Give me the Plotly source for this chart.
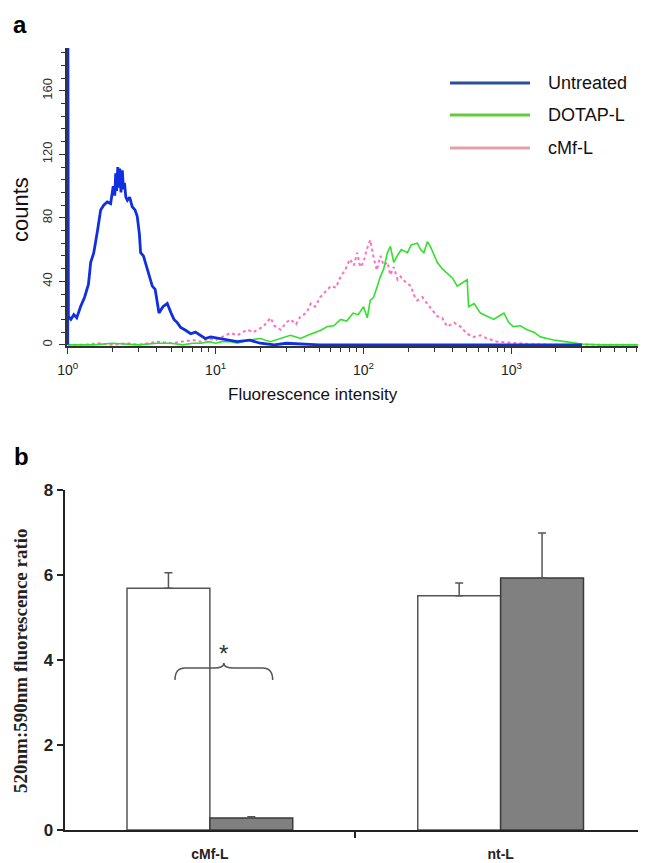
import plotly.graph_objects as go

# page body adds an 8px margin, so the figure is laid out in reference pixels shifted by 8
OFF = 8
W, H = 646 - OFF, 863 - OFF

# ---------------- Panel a: flow cytometry histograms ----------------
untreated_x = [1.0, 1.0, 1.01, 1.05, 1.1, 1.15, 1.22, 1.3, 1.38, 1.43, 1.5, 1.59, 1.67, 1.75, 1.85,
               1.95, 2.03, 2.08, 2.11, 2.14, 2.18, 2.21, 2.25, 2.29, 2.34, 2.38, 2.42, 2.47, 2.53,
               2.62, 2.73, 2.85, 2.95, 3.05, 3.11, 3.25, 3.45, 3.6, 3.73, 3.9, 4.14, 4.4, 4.71,
               5.0, 5.23, 5.5, 5.8, 6.3, 6.78, 7.3, 7.9, 8.5, 9.25, 10.5, 12, 14, 17, 20, 25, 30,
               50, 100, 300, 1000, 3000]
untreated_y = [0, 250, 18, 16, 19, 17, 24, 30, 38, 52, 58, 72, 85, 88, 90,
               89, 100, 94, 108, 97, 112, 99, 111, 96, 110, 98, 102, 93, 91,
               93, 87, 85, 81, 70, 58, 56, 47, 42, 37, 35, 20, 24, 26,
               20, 16, 14, 11, 9, 7, 8, 6, 4, 5, 4, 3, 2, 3, 1, 0, 1,
               0, 0, 0, 0, 0]

dotap_x = [1, 1.5, 2, 3, 4, 5, 6, 7, 8, 9, 10, 11, 12.6, 14, 17, 20, 23.5, 27, 32, 35, 37.5, 42,
           46, 51, 57, 63, 70, 77, 85, 92, 100, 106, 111, 117, 123, 130, 137, 145, 152, 160, 169,
           180, 198, 210, 231, 243, 256, 270, 283, 300, 315, 340, 368, 400, 430, 465, 502, 513,
           560, 617, 690, 760, 820, 890, 960, 1030, 1150, 1276, 1420, 1570, 1750, 1930, 2300,
           2630, 3000, 4000, 8500]
dotap_y = [0, 0, 1, 0, 1, 1, 0, 1, 1, 2, 1, 2, 2, 1, 3, 4, 2, 4, 6, 5, 4, 6,
           7.5, 9, 11.5, 12, 16, 15, 20, 19, 24, 17, 28, 30, 36, 43, 48, 58, 62, 52, 56,
           60, 58, 63, 64, 60, 58, 65, 62, 56, 52, 48, 45, 42, 37, 39, 41, 24,
           26, 20, 18, 16, 18, 20, 14, 11.5, 12, 9.5, 8, 5, 4, 3, 2,
           1, 0.5, 0, 0]

cmf_x = [1, 1.3, 1.6, 2, 2.5, 3, 3.5, 4, 5, 6, 7, 8, 9, 10, 11, 12.6, 14, 16.4, 18, 21, 23.5, 25,
         27.5, 30, 32, 35, 37.5, 41, 44, 47, 51, 55, 60, 65, 70, 75, 81, 86, 90.6, 95, 100, 105,
         111, 117, 123, 130, 137, 145, 152, 160, 170, 178, 190, 209, 220, 231, 250, 269, 290,
         315, 340, 368, 410, 452, 500, 556, 620, 685, 800, 1030, 1300, 2000, 4000, 8500]
cmf_y = [0, 0, 1, 0, 1, 0, 1, 2, 1, 2, 3, 2, 4, 3, 5, 7.5, 6, 9.5, 8, 11.5, 17, 12,
         9.5, 14, 16, 13, 18, 20, 26, 24, 30, 33, 37, 36, 43, 47, 54, 50, 58, 49, 52, 60,
         66, 55, 47, 56, 50, 52, 44, 49, 41, 43, 40, 37, 31, 28, 30, 26, 22,
         18, 17, 11.5, 14, 11.5, 7, 5, 6, 4, 2, 1, 0.5, 0, 0, 0]

legend_labels = ["Untreated", "DOTAP-L", "cMf-L"]
legend_colors = ["#2b4f98", "#62cc3a", "#e4a0a8"]

hist_xticks = [1, 10, 100, 1000]
hist_xticktext = ["10<sup>0</sup>", "10<sup>1</sup>", "10<sup>2</sup>", "10<sup>3</sup>"]
hist_yticks = [0, 40, 80, 120, 160]

# ---------------- Panel b: bar chart ----------------
groups = ["cMf-L", "nt-L"]
group_pos = [0, 1]
white_vals = [5.69, 5.51]
white_err = [0.36, 0.30]
grey_vals = [0.28, 5.93]
grey_err = [0.03, 1.06]

fig = go.Figure()

fig.add_trace(go.Scatter(x=cmf_x, y=cmf_y, mode="lines", xaxis="x", yaxis="y",
                         line=dict(color="#ff6ec4", width=2, dash="dot"), showlegend=False))
fig.add_trace(go.Scatter(x=dotap_x, y=dotap_y, mode="lines", xaxis="x", yaxis="y",
                         line=dict(color="#33e02c", width=1.6), showlegend=False))
fig.add_trace(go.Scatter(x=untreated_x, y=untreated_y, mode="lines", xaxis="x", yaxis="y",
                         line=dict(color="#1030e0", width=2.8), showlegend=False))

fig.add_trace(go.Bar(x=group_pos, y=white_vals, xaxis="x2", yaxis="y2", showlegend=False,
                     marker=dict(color="white", line=dict(color="#555555", width=1.5)),
                     error_y=dict(type="data", array=white_err, arrayminus=[0, 0], symmetric=False,
                                  color="#555555", thickness=1.5, width=4)))
fig.add_trace(go.Bar(x=group_pos, y=grey_vals, xaxis="x2", yaxis="y2", showlegend=False,
                     marker=dict(color="#808080", line=dict(color="#3a3a3a", width=1.5)),
                     error_y=dict(type="data", array=grey_err, arrayminus=[0, 0], symmetric=False,
                                  color="#555555", thickness=1.5, width=4)))


def px(v):
    return (v - OFF) / W


def py(v):
    return 1 - (v - OFF) / H


minor_log = [m * 10 ** d for d in range(0, 4) for m in range(2, 10)]

fig.update_layout(
    width=W, height=H,
    margin=dict(l=0, r=0, t=0, b=0, pad=0),
    paper_bgcolor="white", plot_bgcolor="white",
    barmode="group", bargap=0.43, bargroupgap=0,
    font=dict(family="Liberation Sans, Arial, sans-serif", color="#222"),
    xaxis=dict(type="log", range=[-0.005, 3.91], domain=[px(67), 1], anchor="y", automargin=False,
               tickmode="array", tickvals=hist_xticks, ticktext=hist_xticktext,
               ticks="outside", ticklen=6, tickwidth=1.3, tickcolor="#333",
               ticklabelstandoff=4,
               minor=dict(tickmode="array", tickvals=minor_log, ticks="outside", ticklen=4,
                          tickwidth=1.2, tickcolor="#333"),
               tickfont=dict(size=14, color="#222"),
               showline=True, linecolor="#333", linewidth=1.5, showgrid=False, zeroline=False),
    yaxis=dict(range=[-0.8, 187], domain=[py(346.1), py(48)], anchor="x", automargin=False,
               tickmode="array", tickvals=hist_yticks, tickangle=-90,
               ticks="outside", ticklen=6, tickwidth=1.3, tickcolor="#333",
               ticklabelstandoff=2,
               minor=dict(dtick=8, tick0=0, ticks="outside", ticklen=4, tickwidth=1.2,
                          tickcolor="#333"),
               tickfont=dict(size=13, color="#333"),
               showline=True, linecolor="#333", linewidth=1.5, showgrid=False, zeroline=False),
    xaxis2=dict(range=[-0.5, 1.5], domain=[px(64.5), 1], anchor="y2", automargin=False,
                tickmode="array", tickvals=group_pos, ticktext=groups, ticks="",
                ticklabelstandoff=10,
                minor=dict(tickmode="array", tickvals=[0.5], ticks="outside", ticklen=6,
                           tickwidth=2, tickcolor="#222"),
                tickfont=dict(size=14, color="#222", weight="bold"),
                showline=True, linecolor="#222", linewidth=2, showgrid=False, zeroline=False),
    yaxis2=dict(range=[0, 8], domain=[py(830), py(490)], anchor="x2", automargin=False,
                tickmode="linear", tick0=0, dtick=2,
                ticks="outside", ticklen=6, tickwidth=2, tickcolor="#222",
                tickfont=dict(size=17, color="#222", weight="bold"),
                showline=True, linecolor="#222", linewidth=2, showgrid=False, zeroline=False),
)

# legend drawn as lines + labels
legend_y = [83, 115, 148]
for lab, col, yy in zip(legend_labels, legend_colors, legend_y):
    fig.add_shape(type="line", xref="paper", yref="paper", x0=px(450), x1=px(530),
                  y0=py(yy), y1=py(yy), line=dict(color=col, width=3))
    fig.add_annotation(xref="paper", yref="paper", x=px(546), y=py(yy), text=lab,
                       showarrow=False, xanchor="left", yanchor="middle",
                       font=dict(size=18, color="#111"))

# panel letters and axis titles
fig.add_annotation(xref="paper", yref="paper", x=px(11), y=py(24), text="<b>a</b>",
                   showarrow=False, xanchor="left", yanchor="middle", font=dict(size=24, color="#000"))
fig.add_annotation(xref="paper", yref="paper", x=px(12), y=py(456), text="<b>b</b>",
                   showarrow=False, xanchor="left", yanchor="middle", font=dict(size=24, color="#000"))
fig.add_annotation(xref="paper", yref="paper", x=px(20), y=py(210), text="counts",
                   showarrow=False, textangle=-90, xanchor="center", yanchor="middle",
                   font=dict(size=22, color="#111"))
fig.add_annotation(xref="paper", yref="paper", x=px(313), y=py(394), text="Fluorescence intensity",
                   showarrow=False, xanchor="center", yanchor="middle",
                   font=dict(size=17, color="#111"))
fig.add_annotation(xref="paper", yref="paper", x=px(20), y=py(661),
                   text="<b>520nm:590nm fluorescence ratio</b>",
                   showarrow=False, textangle=-90, xanchor="center", yanchor="middle",
                   font=dict(size=19, family="Liberation Serif, Times New Roman, serif", color="#222"))

# significance brace and asterisk
bl, br, bm = -0.12, 0.216, 0.048
yb, yt, yp = 3.53, 3.81, 3.93
d = 0.035
brace_path = (f"M {bl},{yb} Q {bl},{yt} {bl + d},{yt} L {bm - d},{yt} "
              f"Q {bm},{yt} {bm},{yp} Q {bm},{yt} {bm + d},{yt} L {br - d},{yt} "
              f"Q {br},{yt} {br},{yb}")
fig.add_shape(type="path", xref="x2", yref="y2", path=brace_path,
              line=dict(color="#555555", width=1.5))
fig.add_annotation(xref="x2", yref="y2", x=bm, y=4.15, text="*", showarrow=False,
                   font=dict(size=24, color="#333"))

fig.write_html("out.html")
